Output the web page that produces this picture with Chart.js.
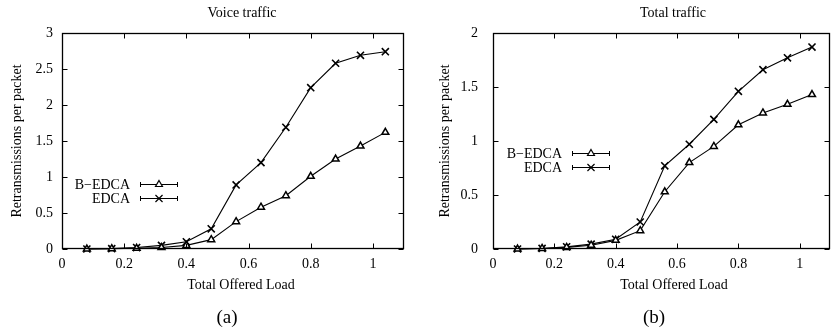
<!DOCTYPE html>
<html>
<head>
<meta charset="utf-8">
<script src="https://cdn.jsdelivr.net/npm/chart.js@4.4.1/dist/chart.umd.min.js"></script>
<style>
  html, body { margin: 0; padding: 0; background: #fff; }
  #wrap { position: relative; width: 837px; height: 332px; }
  canvas { position: absolute; top: 0; }
  #voice { left: 0; }
  #total { left: 420px; }
</style>
</head>
<body>
<div id="wrap">
  <canvas id="voice" width="420" height="332"></canvas>
  <canvas id="total" width="417" height="332"></canvas>
</div>
<script>
const loads = [0.08, 0.16, 0.24, 0.32, 0.40, 0.48, 0.56, 0.64, 0.72, 0.80, 0.88, 0.96, 1.04];

const voiceBedca = [0.00, 0.005, 0.01, 0.02, 0.05, 0.13, 0.38, 0.58, 0.74, 1.01, 1.25, 1.43, 1.62];
const voiceEdca = [0.00, 0.005, 0.02, 0.05, 0.10, 0.28, 0.89, 1.20, 1.69, 2.24, 2.58, 2.69, 2.74];

const totalBedca = [0.00, 0.005, 0.015, 0.035, 0.08, 0.17, 0.53, 0.80, 0.95, 1.15, 1.26, 1.34, 1.43];
const totalEdca = [0.00, 0.005, 0.02, 0.045, 0.09, 0.25, 0.77, 0.97, 1.20, 1.46, 1.66, 1.77, 1.87];

const xTicks = [0, 0.2, 0.4, 0.6, 0.8, 1];
const voiceYTicks = [0, 0.5, 1, 1.5, 2, 2.5, 3];
const totalYTicks = [0, 0.5, 1, 1.5, 2];

const seriesNames = ['B\u2212EDCA', 'EDCA'];
const FONT = '"Liberation Serif", "Times New Roman", serif';
const TEXT_SIZE = 14;

function points(ys) {
  return loads.map((x, i) => ({ x, y: ys[i] }));
}

// gnuplot-like frame: box, inward ticks on all sides, titles, key
const paperPlugin = {
  id: 'paper',
  afterDraw(chart, args, opts) {
    const ctx = chart.ctx;
    const area = chart.chartArea;
    const l = Math.round(area.left) + 0.5;
    const r = Math.round(area.right) - 0.5;
    const t = Math.round(area.top) + 0.5;
    const b = Math.round(area.bottom) - 0.5;
    const tick = 5;

    ctx.save();
    ctx.strokeStyle = '#000';
    ctx.lineWidth = 1.3;
    ctx.strokeRect(l, t, r - l, b - t);

    ctx.lineWidth = 1;
    ctx.beginPath();
    chart.scales.x.ticks.forEach((tk) => {
      const px = Math.round(chart.scales.x.getPixelForValue(tk.value)) + 0.5;
      ctx.moveTo(px, b); ctx.lineTo(px, b - tick);
      ctx.moveTo(px, t); ctx.lineTo(px, t + tick);
    });
    chart.scales.y.ticks.forEach((tk) => {
      const py = Math.round(chart.scales.y.getPixelForValue(tk.value)) + 0.5;
      ctx.moveTo(l, py); ctx.lineTo(l + tick, py);
      ctx.moveTo(r, py); ctx.lineTo(r - tick, py);
    });
    ctx.stroke();

    ctx.fillStyle = '#000';
    ctx.textBaseline = 'alphabetic';
    ctx.textAlign = 'center';
    ctx.font = TEXT_SIZE + 'px ' + FONT;
    ctx.fillText(opts.title, opts.titleX, 17);
    ctx.fillText('Total Offered Load', opts.labelX, 289);
    ctx.font = '19px ' + FONT;
    ctx.fillText(opts.tag, opts.tagX, 323);

    ctx.save();
    ctx.font = TEXT_SIZE + 'px ' + FONT;
    ctx.translate(opts.yTitleX, (area.top + area.bottom) / 2);
    ctx.rotate(-Math.PI / 2);
    ctx.textBaseline = 'middle';
    ctx.fillText('Retransmissions per packet', 0, 0);
    ctx.restore();

    // key with error-bar style samples
    chart.data.datasets.forEach((ds, i) => {
      const y = Math.round(opts.keyY + i * 14) + 0.5;
      const x0 = opts.keyX + 10;
      const x1 = opts.keyX + 48;
      ctx.font = TEXT_SIZE + 'px ' + FONT;
      ctx.textAlign = 'right';
      ctx.textBaseline = 'middle';
      ctx.fillStyle = '#000';
      ctx.fillText(ds.label, opts.keyX, y + 1);
      ctx.lineWidth = 1;
      ctx.beginPath();
      ctx.moveTo(x0, y); ctx.lineTo(x1, y);
      ctx.moveTo(x0 + 0.5, y - 2.5); ctx.lineTo(x0 + 0.5, y + 2.5);
      ctx.moveTo(x1 - 0.5, y - 2.5); ctx.lineTo(x1 - 0.5, y + 2.5);
      ctx.stroke();
      ctx.fillStyle = '#fff';
      ctx.lineWidth = 1.2;
      Chart.helpers.drawPoint(ctx, {
        pointStyle: ds.pointStyle,
        radius: ds.pointRadius,
        rotation: 0,
        borderWidth: 1.2
      }, (x0 + x1) / 2, y);
    });
    ctx.restore();
  }
};

function makeChart(id, bedca, edca, yTicks, layout) {
  const tickFont = { family: FONT, size: TEXT_SIZE };
  return new Chart(document.getElementById(id), {
    type: 'line',
    data: {
      datasets: [
        {
          label: seriesNames[0],
          data: points(bedca),
          borderColor: '#000',
          borderWidth: 1.1,
          pointStyle: 'triangle',
          pointRadius: 4,
          pointBorderColor: '#000',
          pointBackgroundColor: '#fff',
          pointBorderWidth: 1.5,
          clip: false,
          tension: 0
        },
        {
          label: seriesNames[1],
          data: points(edca),
          borderColor: '#000',
          borderWidth: 1.1,
          pointStyle: 'crossRot',
          pointRadius: 5,
          pointBorderColor: '#000',
          pointBorderWidth: 1.6,
          clip: false,
          tension: 0
        }
      ]
    },
    options: {
      responsive: false,
      animation: false,
      events: [],
      layout: { padding: { top: 33, right: layout.padRight, left: 0, bottom: 0 } },
      plugins: {
        legend: { display: false },
        tooltip: { enabled: false },
        paper: layout
      },
      scales: {
        x: {
          type: 'linear',
          min: 0,
          max: 1.1,
          afterBuildTicks: (scale) => { scale.ticks = xTicks.map((v) => ({ value: v })); },
          afterFit: (scale) => { scale.height = 83; },
          grid: { display: false, drawTicks: false },
          border: { display: false },
          ticks: { font: tickFont, color: '#000', padding: 7, maxRotation: 0, callback: (v) => String(v) }
        },
        y: {
          min: 0,
          max: yTicks[yTicks.length - 1],
          afterBuildTicks: (scale) => { scale.ticks = yTicks.map((v) => ({ value: v })); },
          afterFit: (scale) => { scale.width = layout.yWidth; },
          grid: { display: false, drawTicks: false },
          border: { display: false },
          ticks: { font: tickFont, color: '#000', padding: layout.yPad, callback: (v) => String(v) }
        }
      }
    },
    plugins: [paperPlugin]
  });
}

makeChart('voice', voiceBedca, voiceEdca, voiceYTicks, {
  padRight: 16, yWidth: 62, yPad: 9,
  title: 'Voice traffic', titleX: 242, labelX: 241, tag: '(a)', tagX: 227,
  yTitleX: 17, keyX: 130, keyY: 184
});

makeChart('total', totalBedca, totalEdca, totalYTicks, {
  padRight: 1, yWidth: 73, yPad: 15,
  title: 'Total traffic', titleX: 253, labelX: 254, tag: '(b)', tagX: 234,
  yTitleX: 25, keyX: 142, keyY: 153
});
</script>
</body>
</html>
